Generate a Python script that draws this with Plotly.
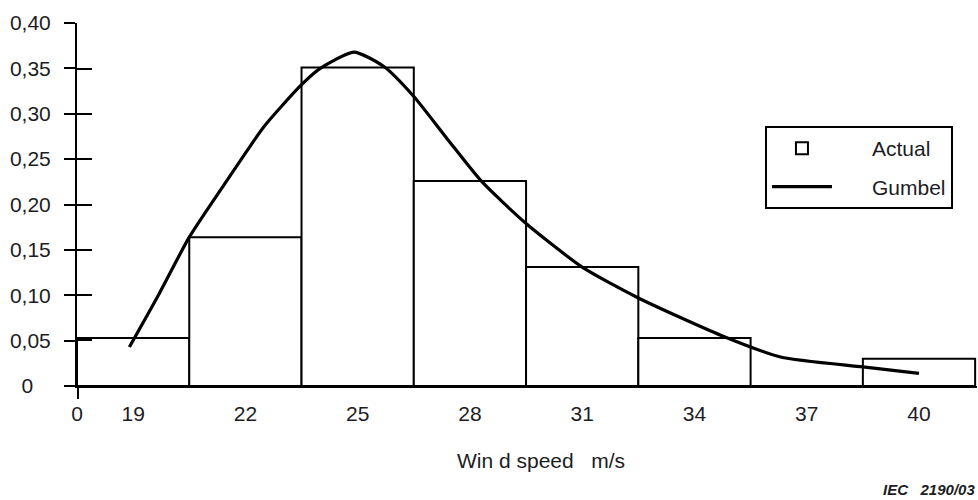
import plotly.graph_objects as go

# Data
bin_centers = [19, 22, 25, 28, 31, 34, 37, 40]
actual = [0.053, 0.164, 0.351, 0.226, 0.131, 0.053, 0.0, 0.030]

gumbel_x = [18.9, 19.7, 20.5, 21.5, 22.5, 23.5, 24.0, 24.9, 25.7, 26.5, 27.4, 28.3, 29.5, 31.0, 32.5, 34.7, 36.3, 38.5, 40.0]
gumbel_y = [0.043, 0.102, 0.164, 0.226, 0.286, 0.332, 0.350, 0.368, 0.352, 0.319, 0.272, 0.226, 0.179, 0.131, 0.097, 0.056, 0.032, 0.021, 0.014]

x_tickvals = [17.5, 19, 22, 25, 28, 31, 34, 37, 40]
x_ticktext = ["0", "19", "22", "25", "28", "31", "34", "37", "40"]
y_tickvals = [0, 0.05, 0.10, 0.15, 0.20, 0.25, 0.30, 0.35, 0.40]
y_ticktext = ["0\u00a0\u00a0\u00a0", "0,05", "0,10", "0,15", "0,20", "0,25", "0,30", "0,35", "0,40"]

FONT = "Liberation Sans, Arial, sans-serif"
TXT = "#1c1c24"
XR = [17.5, 41.55]
YR = [0, 0.40]
XR2 = [17.48, 41.55]
YR2 = [-0.001, 0.401]

fig = go.Figure()
fig.add_trace(go.Bar(
    x=bin_centers, y=actual, width=3, name="\u00a0\u00a0\u00a0\u00a0\u00a0\u00a0Actual",
    legendgroup="a",
    marker=dict(color="white", line=dict(color="black", width=2)),
))
fig.add_trace(go.Scatter(
    x=gumbel_x, y=gumbel_y, mode="lines", name="\u00a0\u00a0\u00a0\u00a0\u00a0\u00a0Gumbel",
    legendgroup="b",
    line=dict(color="black", width=3.2, shape="spline", smoothing=0.6),
))
# invisible helper trace so the overlay axes (cross ticks) get drawn
fig.add_trace(go.Scatter(x=gumbel_x, y=gumbel_y, xaxis="x2", yaxis="y2", mode="lines",
                         opacity=0, showlegend=False, hoverinfo="skip"))

fig.update_layout(
    width=978, height=500,
    margin=dict(l=77, r=1, t=23, b=114),
    paper_bgcolor="white", plot_bgcolor="white",
    font=dict(family=FONT, size=21, color=TXT),
    barmode="overlay",
    xaxis=dict(
        range=XR, tickmode="array", tickvals=x_tickvals, ticktext=x_ticktext,
        ticks="", showline=True, linecolor="black", linewidth=2,
        showgrid=False, zeroline=False, ticklabelstandoff=8,
        tickfont=dict(size=21, color=TXT),
    ),
    yaxis=dict(
        range=YR, tickmode="array", tickvals=y_tickvals, ticktext=y_ticktext,
        ticks="outside", ticklen=11, tickwidth=2, tickcolor="black",
        showline=True, linecolor="black", linewidth=2,
        showgrid=False, zeroline=False, ticklabelstandoff=9,
        tickfont=dict(size=21, color=TXT),
    ),
    xaxis2=dict(
        range=XR2, overlaying="x", anchor="y2", side="bottom",
        tickmode="array", tickvals=[17.5], ticks="outside", ticklen=12,
        tickwidth=2, tickcolor="black", showticklabels=False,
        showline=False, showgrid=False, zeroline=False,
    ),
    yaxis2=dict(
        range=YR2, overlaying="y", anchor="x2", side="left",
        tickmode="array", tickvals=y_tickvals, ticks="inside", ticklen=15,
        tickwidth=2, tickcolor="black", showticklabels=False,
        showline=False, showgrid=False, zeroline=False,
    ),
    legend=dict(
        x=0.7644, y=0.716, xanchor="left", yanchor="top",
        bgcolor="white", bordercolor="black", borderwidth=2,
        font=dict(size=21, color=TXT), tracegroupgap=8,
        traceorder="grouped", itemwidth=60,
    ),
    annotations=[
        dict(text="Win d speed\u00a0\u00a0\u00a0m/s", xref="paper", yref="paper",
             x=0.5156, y=-0.2066, xanchor="center", yanchor="middle",
             showarrow=False, font=dict(size=21, color=TXT)),
        dict(text="<b><i>IEC\u00a0\u00a0 2190/03</i></b>", xref="paper", yref="paper",
             x=1.0, y=-0.286, xanchor="right", yanchor="middle",
             showarrow=False, font=dict(size=15, color=TXT)),
    ],
)

fig.write_html("out.html")
